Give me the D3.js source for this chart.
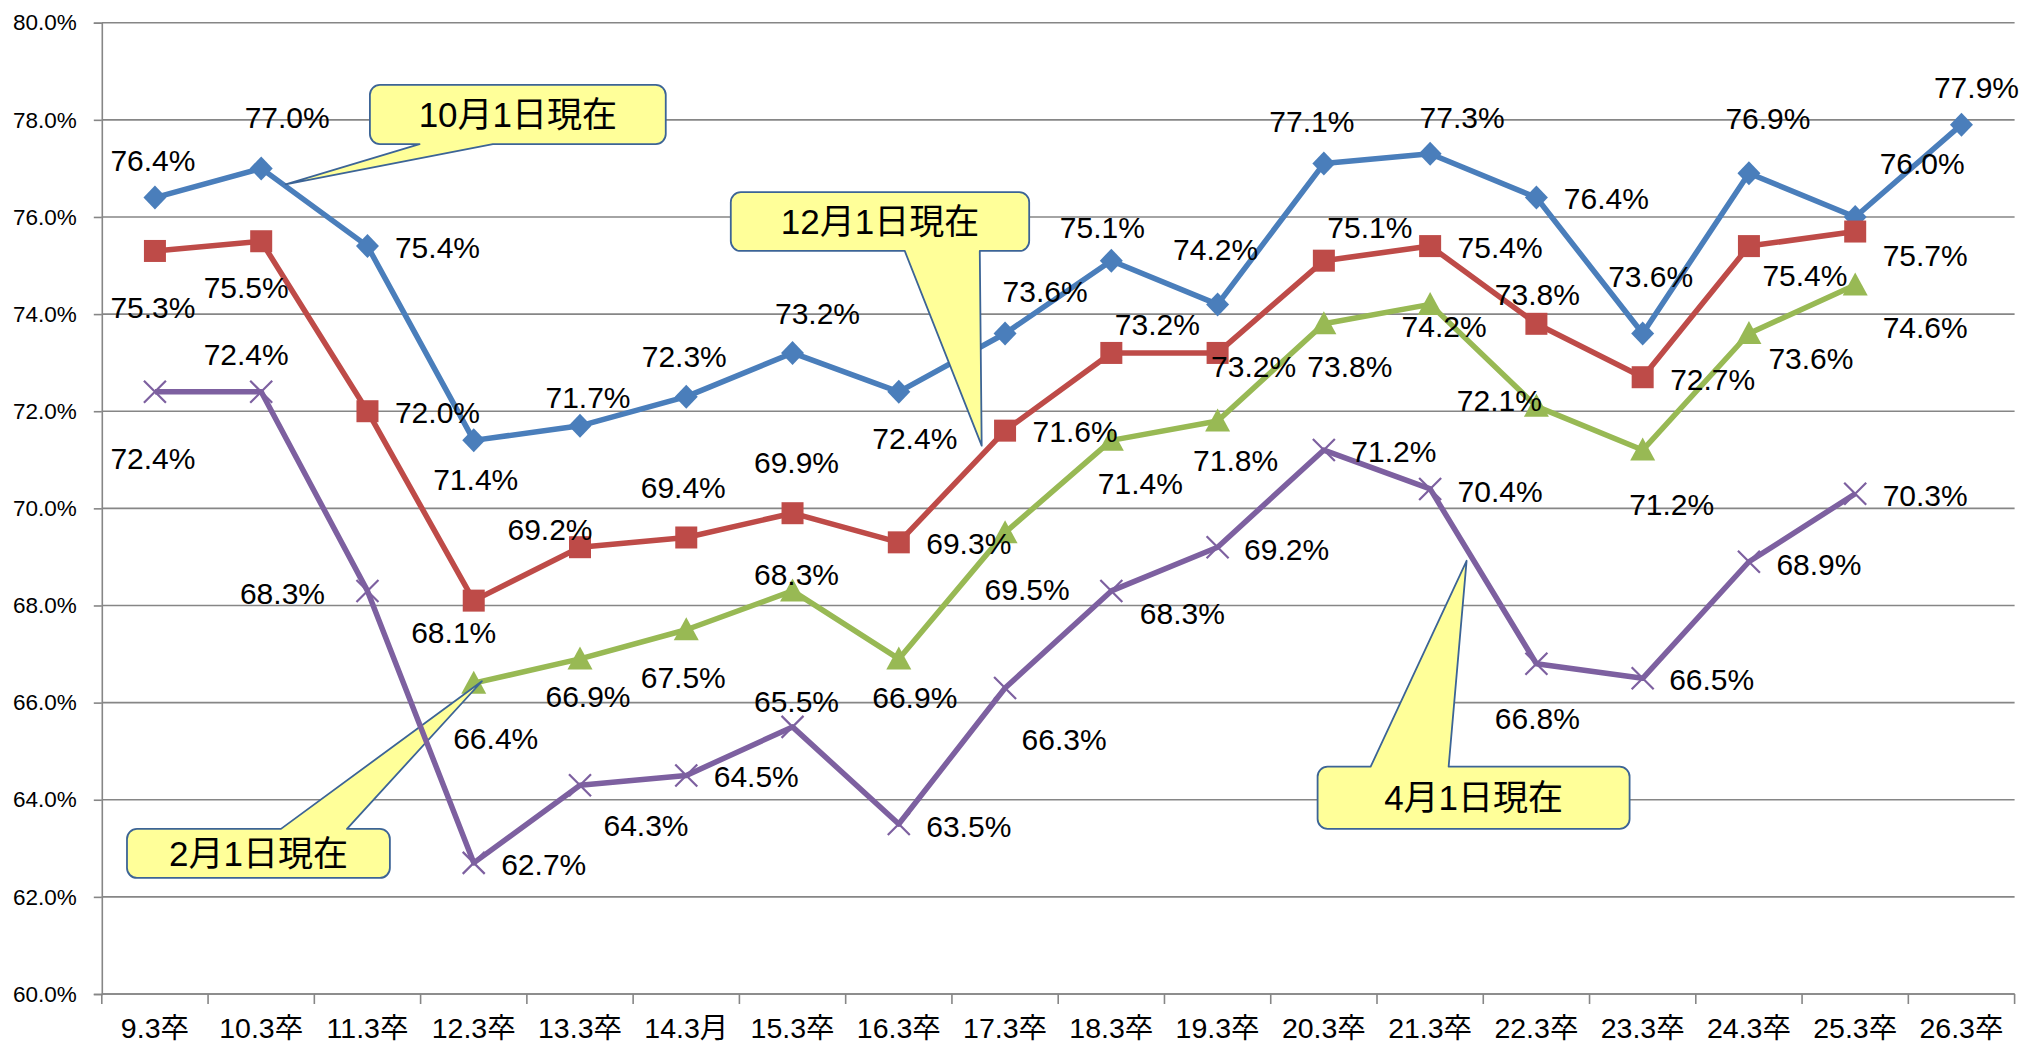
<!DOCTYPE html>
<html><head><meta charset="utf-8">
<script src="https://cdn.jsdelivr.net/npm/d3@7"></script>
<style>html,body{margin:0;padding:0;background:#fff;overflow:hidden}</style>
</head><body>
<svg id="chart" width="2022" height="1051"></svg>
<script>
// ---- data ----
const categories = ["9.3卒","10.3卒","11.3卒","12.3卒","13.3卒","14.3月","15.3卒","16.3卒","17.3卒","18.3卒","19.3卒","20.3卒","21.3卒","22.3卒","23.3卒","24.3卒","25.3卒","26.3卒"];
const yTickValues = [60,62,64,66,68,70,72,74,76,78,80];
const oct1 = [76.4,77.0,75.4,71.4,71.7,72.3,73.2,72.4,73.6,75.1,74.2,77.1,77.3,76.4,73.6,76.9,76.0,77.9];
const dec1 = [75.3,75.5,72.0,68.1,69.2,69.4,69.9,69.3,71.6,73.2,73.2,75.1,75.4,73.8,72.7,75.4,75.7,null];
const feb1 = [null,null,null,66.4,66.9,67.5,68.3,66.9,69.5,71.4,71.8,73.8,74.2,72.1,71.2,73.6,74.6,null];
const apr1 = [72.4,72.4,68.3,62.7,64.3,64.5,65.5,63.5,66.3,68.3,69.2,71.2,70.4,66.8,66.5,68.9,70.3,null];
const calloutTexts = ["10月1日現在","12月1日現在","2月1日現在","4月1日現在"];

// ---- label placement (pixel offsets of label centre from its point) ----
const oct1Offsets = [[-2,-37],[26,-51],[70,1],[2,39],[8,-29],[-2,-40],[25,-40],[16,46],[40,-42],[-9,-33],[-2,-55],[-12,-42],[32,-37],[70,1],[8,-57],[19,-55],[67,-54],[15,-37]];
const dec1Offsets = [[-2,56],[-15,46],[70,1],[-20,32],[-30,-18],[-3,-50],[4,-51],[70,1],[70,1],[46,-29],[36,13],[46,-33],[70,1],[1,-30],[70,2],[56,29],[70,24],null];
const feb1Offsets = [null,null,null,[22,55],[8,37],[-3,47],[4,-17],[16,38],[22,57],[29,43],[18,39],[26,42],[14,22],[-37,-6],[29,54],[62,25],[70,42],null];
const apr1Offsets = [[-2,66],[-15,-38],[-85,2],[70,1],[66,40],[70,1],[4,-26],[70,2],[59,51],[71,22],[69,2],[70,1],[70,2],[1,55],[69,1],[70,2],[70,1],null];

// callout geometry in data space: [idx0, idx1, val0, val1, baseIdxA, baseIdxB, tipIdx, tipVal, side]
const calloutLayout = [
  [2.023,4.807,78.72,77.50,2.49,3.18,1.23,76.67,"bottom"],
  [5.419,8.227,76.51,75.30,7.056,7.762,7.78,71.29,"bottom"],
  [-0.263,2.211,63.40,62.39,1.186,1.807,3.077,66.44,"top"],
  [10.941,13.877,64.68,63.40,11.44,12.174,12.343,68.92,"top"]
];

const plotL = 101.8, plotR = 2014.6, plotT = 22.7, plotB = 994;
const svg = d3.select("#chart");
const numFont = "'Liberation Sans', Arial, 'Noto Sans CJK JP', sans-serif";
const cjkFont = "'Liberation Sans', Arial, 'Noto Sans CJK JP', sans-serif";
const gridColor = "#868686";
const labelSize = 30;

const x = d3.scaleBand().domain(categories).range([plotL, plotR]).paddingInner(0).paddingOuter(0);
const y = d3.scaleLinear().domain([60, 80]).range([plotB, plotT]);
const step = x.step();
const cx = c => x(c) + x.bandwidth() / 2;
const xi = idx => x(categories[0]) + x.bandwidth() / 2 + idx * step;

// gridlines
svg.append("g").selectAll("line").data(yTickValues).join("line")
  .attr("x1", plotL).attr("x2", plotR)
  .attr("y1", d => y(d)).attr("y2", d => y(d))
  .attr("stroke", gridColor).attr("stroke-width", 1.6);

// y axis
const yAxis = svg.append("g").attr("transform", `translate(${plotL},0)`)
  .call(d3.axisLeft(y).tickValues(yTickValues).tickFormat(d => d.toFixed(1) + "%").tickSize(8).tickPadding(17));
yAxis.select(".domain").attr("stroke", gridColor).attr("stroke-width", 1.6);
yAxis.selectAll(".tick line").attr("stroke", gridColor).attr("stroke-width", 1.6);
yAxis.selectAll(".tick text").attr("font-family", numFont).attr("font-size", 22.5).attr("fill", "#000");

// x axis: labels at band centres, ticks at band boundaries
const xAxis = svg.append("g").attr("transform", `translate(0,${plotB})`)
  .call(d3.axisBottom(x).tickSize(0).tickPadding(24));
xAxis.select(".domain").remove();
xAxis.selectAll(".tick text").attr("font-family", cjkFont).attr("font-size", 28.5).attr("fill", "#000");
svg.append("line").attr("x1", plotL).attr("x2", plotR).attr("y1", plotB).attr("y2", plotB)
  .attr("stroke", gridColor).attr("stroke-width", 1.6);
const bounds = categories.map(c => x(c)).concat([x.range()[1]]);
svg.append("g").selectAll("line").data(bounds).join("line")
  .attr("x1", d => d).attr("x2", d => d).attr("y1", plotB).attr("y2", plotB + 10)
  .attr("stroke", gridColor).attr("stroke-width", 1.6);

const series = [
  {values: oct1, offsets: oct1Offsets, color: "#4A7EBB", marker: "diamond"},
  {values: dec1, offsets: dec1Offsets, color: "#BE4B48", marker: "square"},
  {values: feb1, offsets: feb1Offsets, color: "#98B954", marker: "triangle"},
  {values: apr1, offsets: apr1Offsets, color: "#7D60A0", marker: "x"}
];

const line = d3.line().defined(d => d.v != null).x(d => cx(d.c)).y(d => y(d.v));

function drawSeries(s) {
  const pts = categories.map((c, i) => ({c, v: s.values[i], i}));
  const g = svg.append("g");
  g.append("path").datum(pts).attr("d", line).attr("fill", "none")
    .attr("stroke", s.color).attr("stroke-width", 5.5).attr("stroke-linejoin", "round");
  const m = g.selectAll("g.m").data(pts.filter(d => d.v != null)).join("g")
    .attr("transform", d => `translate(${cx(d.c)},${y(d.v)})`);
  if (s.marker === "diamond") m.append("path").attr("d", "M0,-12L11.5,0L0,12L-11.5,0Z").attr("fill", s.color);
  if (s.marker === "square") m.append("rect").attr("x", -11).attr("y", -11).attr("width", 22).attr("height", 22).attr("fill", s.color);
  if (s.marker === "triangle") m.append("path").attr("d", "M0,-12.5L12.5,10.5L-12.5,10.5Z").attr("fill", s.color);
  if (s.marker === "x") m.append("path").attr("d", "M-11,-11L11,11M11,-11L-11,11").attr("stroke", s.color).attr("stroke-width", 2.2).attr("fill", "none");
}

function drawLabels(s) {
  const pts = categories.map((c, i) => ({c, v: s.values[i], o: s.offsets[i]})).filter(d => d.v != null);
  svg.append("g").selectAll("text").data(pts).join("text")
    .attr("x", d => cx(d.c) + d.o[0])
    .attr("y", d => y(d.v) + d.o[1] + labelSize * 0.358)
    .attr("text-anchor", "middle")
    .attr("font-family", numFont).attr("font-size", labelSize).attr("fill", "#000")
    .text(d => d.v.toFixed(1) + "%");
}

function drawCallout(k) {
  const [i0, i1, v0, v1, ba, bb, ti, tv, side] = calloutLayout[k];
  const x0 = xi(i0), x1 = xi(i1), y0 = y(v0), y1 = y(v1);
  const b1 = xi(ba), b2 = xi(bb), tx = xi(ti), ty = y(tv);
  const r = 10;
  let p;
  if (side === "bottom") {
    p = `M${x0 + r},${y0}H${x1 - r}A${r},${r} 0 0 1 ${x1},${y0 + r}V${y1 - r}A${r},${r} 0 0 1 ${x1 - r},${y1}` +
        `H${b2}L${tx},${ty}L${b1},${y1}H${x0 + r}A${r},${r} 0 0 1 ${x0},${y1 - r}V${y0 + r}A${r},${r} 0 0 1 ${x0 + r},${y0}Z`;
  } else {
    p = `M${x0 + r},${y0}H${b1}L${tx},${ty}L${b2},${y0}H${x1 - r}A${r},${r} 0 0 1 ${x1},${y0 + r}V${y1 - r}A${r},${r} 0 0 1 ${x1 - r},${y1}` +
        `H${x0 + r}A${r},${r} 0 0 1 ${x0},${y1 - r}V${y0 + r}A${r},${r} 0 0 1 ${x0 + r},${y0}Z`;
  }
  const g = svg.append("g");
  g.append("path").attr("d", p).attr("fill", "#FFFF99").attr("stroke", "#3C6496").attr("stroke-width", 1.8).attr("stroke-linejoin", "round");
  g.append("text").attr("x", (x0 + x1) / 2).attr("y", (y0 + y1) / 2 + 35 * 0.36)
    .attr("text-anchor", "middle").attr("font-family", cjkFont).attr("font-size", 35).attr("fill", "#000")
    .text(calloutTexts[k]);
}

// draw order: series (blue, red, green), callouts, purple series, labels
drawSeries(series[0]);
drawSeries(series[1]);
drawSeries(series[2]);
[0, 1, 2, 3].forEach(drawCallout);
drawSeries(series[3]);
series.forEach(drawLabels);
</script>
</body></html>
